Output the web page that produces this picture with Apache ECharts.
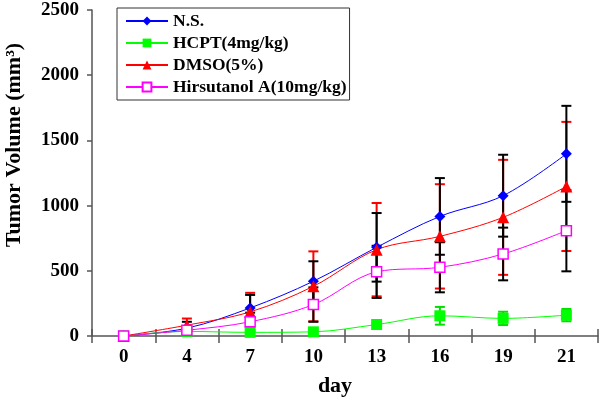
<!DOCTYPE html>
<html><head><meta charset="utf-8">
<script src="https://cdn.jsdelivr.net/npm/echarts@6/dist/echarts.min.js"></script>
<style>html,body{margin:0;padding:0;background:#fff}#c{width:600px;height:401px}</style>
</head><body><div id="c"></div>
<script>
var days = ['0','4','7','10','13','16','19','21'];
var nsMean   = [0, 60, 215, 420, 680, 917, 1076, 1397];
var nsErr    = [0, 49, 100, 153, 263, 294, 314, 368];
var hcptMean = [0, 35, 28, 32, 88, 155, 135, 160];
var hcptErr  = [0, 0, 0, 0, 0, 68, 51, 47];
var dmsoMean = [0, 83, 185, 381, 662, 764, 910, 1147];
var dmsoErr  = [0, 51, 146, 268, 358, 400, 441, 495];
var hirsMean = [0, 44, 109, 241, 492, 527, 629, 808];
var hirsErr  = [0, 20, 70, 132, 200, 192, 202, 312];
var names = ['N.S.', 'HCPT(4mg/kg)', 'DMSO(5%)', 'Hirsutanol A(10mg/kg)'];

var font = 'Liberation Serif';
function errData(mean, err){
  return mean.map(function(m,i){ return [i, m - err[i], m + err[i]]; });
}
function errSeries(mean, err, color){
  return {
    type: 'custom', xAxisIndex: 0, yAxisIndex: 0, z: 1, silent: true,
    data: errData(mean, err).filter(function(d){ return d[2] > d[1]; }),
    renderItem: function(params, api){
      var lo = api.coord([api.value(0), api.value(1)]);
      var hi = api.coord([api.value(0), api.value(2)]);
      var hw = 5;
      var st = {stroke: color, lineWidth: 2};
      return {type:'group', children:[
        {type:'line', shape:{x1:hi[0],y1:hi[1],x2:lo[0],y2:lo[1]}, style:st},
        {type:'line', shape:{x1:hi[0]-hw,y1:hi[1],x2:hi[0]+hw,y2:hi[1]}, style:st},
        {type:'line', shape:{x1:lo[0]-hw,y1:lo[1],x2:lo[0]+hw,y2:lo[1]}, style:st}
      ]};
    }
  };
}
function lineSeries(name, data, color, symbol, size, hollow){
  return {
    name: name, type: 'line', data: data, smooth: 0.35, z: 3,
    symbol: symbol, symbolSize: size, showSymbol: true,
    lineStyle: {color: color, width: 1},
    itemStyle: hollow ? {color: '#ffffff', borderColor: color, borderWidth: 1.5} : {color: color},
    emphasis: {disabled: true}
  };
}
var chart = echarts.init(document.getElementById('c'), null, {renderer: 'canvas'});
chart.setOption({
  animation: false,
  backgroundColor: '#ffffff',
  grid: {left: 92, right: 2, top: 10, bottom: 65},
  graphic: [
    {type: 'text', x: 14, y: 145, rotation: Math.PI / 2,
     style: {text: 'Tumor Volume (mm³)', fontFamily: font, fontWeight: 'bold', fontSize: 22,
             fill: '#000', align: 'center', verticalAlign: 'middle'}},
    {type: 'text', x: 335, y: 386,
     style: {text: 'day', fontFamily: font, fontWeight: 'bold', fontSize: 22,
             fill: '#000', align: 'center', verticalAlign: 'middle'}}
  ],
  legend: {
    left: 117, top: 8, orient: 'vertical',
    itemWidth: 42, itemHeight: 11, itemGap: 4,
    padding: [4, 3, 4, 8],
    borderColor: '#333', borderWidth: 1, backgroundColor: '#fff',
    textStyle: {fontFamily: font, fontWeight: 'bold', fontSize: 17.5, color: '#000'},
    data: names
  },
  xAxis: [{
    type: 'category', data: days, boundaryGap: true,
    axisLine: {lineStyle: {color: '#555', width: 1.5}},
    axisTick: {show: true, length: 7, lineStyle: {color: '#555', width: 1.5}},
    axisLabel: {fontFamily: font, fontWeight: 'bold', fontSize: 19, color: '#000', margin: 12}
  }, {
    type: 'category', data: days, boundaryGap: true, position: 'bottom', offset: 0,
    axisLine: {show: false},
    axisTick: {show: true, inside: true, length: 7, lineStyle: {color: '#555', width: 1.5}},
    axisLabel: {show: false}
  }],
  yAxis: {
    type: 'value', min: 0, max: 2500, interval: 500,
    axisLine: {show: true, lineStyle: {color: '#555', width: 1.5}},
    axisTick: {show: true, length: 5, lineStyle: {color: '#555', width: 1.5}},
    axisLabel: {fontFamily: font, fontWeight: 'bold', fontSize: 19, color: '#000', margin: 13,
                formatter: function(v){ return String(v); }},
    splitLine: {show: false}
  },
  series: [
    errSeries(hcptMean, hcptErr, '#00e000'),
    errSeries(dmsoMean, dmsoErr, '#ff0000'),
    errSeries(nsMean, nsErr, '#000000'),
    errSeries(hirsMean, hirsErr, '#000000'),
    lineSeries(names[0], nsMean, '#0000ff', 'diamond', 11, false),
    lineSeries(names[1], hcptMean, '#00ff00', 'rect', 11, false),
    lineSeries(names[2], dmsoMean, '#ff0000', 'triangle', 12, false),
    lineSeries(names[3], hirsMean, '#ff00ff', 'rect', 10, true)
  ]
});
</script></body></html>
